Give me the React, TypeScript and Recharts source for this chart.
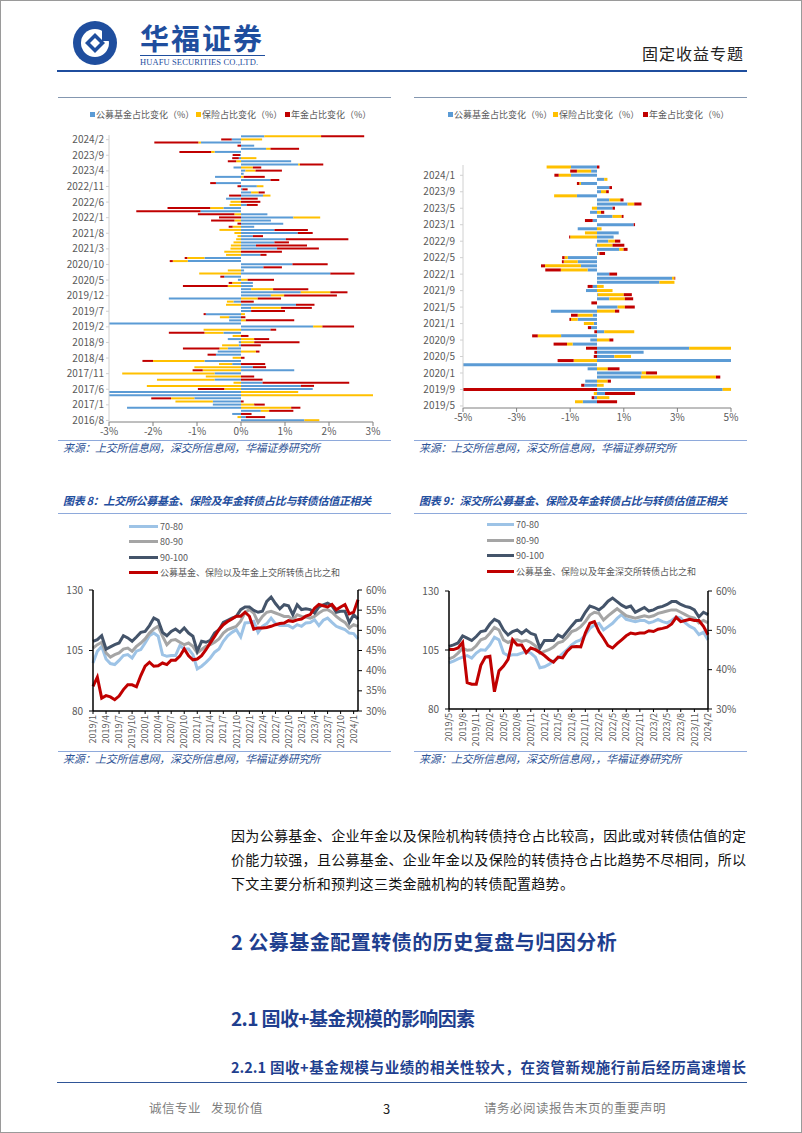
import React from 'react';
import { BarChart, Bar, XAxis, YAxis, LineChart, Line } from 'recharts';

const FONT = '"Noto Sans CJK SC","Noto Sans",sans-serif';
const TICK = '#595959';
const BLUE = '#5B9BD5';
const YELLOW = '#FFC000';
const RED = '#C00000';
const NAVY = '#44546A';
const GRAY = '#A5A5A5';
const LIGHT = '#9DC3E6';
const DARKBLUE = '#1F4E9E';

function monthRange(startY: number, startM: number, n: number): string[] {
  const out: string[] = [];
  let y = startY;
  let m = startM;
  for (let i = 0; i < n; i++) {
    out.push(`${y}/${m}`);
    m++;
    if (m > 12) { m = 1; y++; }
  }
  return out;
}

// ---- Chart 1: SSE share changes, 2016/8 .. 2024/3 ----
const sseBarMonths = monthRange(2016, 8, 92);
const sseFund = [1.44, 0.11, -0.2, 0.45, -2.59, -0.64, -0.64, -1.06, -3.0, -3.0, 1.63, 1.36, 0.49, -0.6, 0, -0.6, 1.21, 0.27, -0.2, -0.83, 0, -0.57, -0.53, -0.3, -0.05, -0.05, -0.3, 0, -0.4, 0.67, 1.64, -3.0, -0.27, -0.27, -0.8, 0.23, 0.23, 1.25, -0.17, -1.64, 0.68, 1.36, 0.23, 0.27, 0.27, -0.07, -0.38, 2.03, 0.07, 0.51, 1.17, -1.21, -0.83, 0.44, 0, 0.82, 0.34, 0.76, 1.02, 0.27, 1.29, 0.76, 0.3, 0.96, 0.68, 1.19, 0.6, -0.92, -0.4, 0.13, 0, -0.34, 0.5, 0.23, 0.03, 0.36, -0.57, 0.67, -0.59, 0.06, 0.1, -0.17, 1.3, 1.14, -0.05, -0.02, -0.6, 0.57, 0.3, -0.91, -0.21, 0.53];
const sseIns = [0.34, -0.08, 0, 0.19, 1.14, 0.3, -0.85, -0.53, 3.0, 1.3, -0.38, -2.14, -0.17, -1.31, -0.8, -2.1, -0.87, -1.06, -0.3, -1.17, -0.19, 0, 0.34, -0.19, -0.38, 0.3, 0.3, -0.19, -0.43, -0.85, 0.21, 0, 0.11, -0.21, 0.09, 0, 0.68, -0.34, -0.15, 0.38, 0.3, 0.67, 0.5, -0.3, -0.2, 0.15, 0, -0.95, -0.3, 0, 0, -0.34, -0.39, -0.34, -0.38, -0.24, -0.23, -0.17, -0.11, -0.08, -0.15, -0.49, -0.19, 0, -0.15, 0.61, -0.15, 0, -0.3, -0.26, -0.24, 0, 0.17, 0.17, 0, 0.15, 0, 0, 0.06, 0, 0.23, 0.27, 0.04, -0.11, 0.35, 0, -0.08, 0.1, 0, -0.06, 0.48, 1.29];
const ssePen = [0, 0.44, 0.24, 0.55, 0.21, 0.24, 0.06, -0.45, 0, 0, -0.6, 0.3, 1.97, 0.49, 0.3, 0, -0.23, 0.3, 0.55, -0.24, 0.08, -0.19, 0.08, -0.83, 0.45, 1.03, 0.34, 0.17, -0.81, 0.13, 0.72, 0, 1.1, 0.1, -0.05, 0.77, 0.7, 0.42, 0.29, 0.53, 1.2, 0.39, 0.8, -1.02, -0.08, 0.6, -0.09, 0.55, 0, 0.42, 0.8, -0.07, -0.06, 0.14, 0.93, 0.95, 1.16, 0.33, 1.42, 0.23, 0.34, 0.76, -0.09, -0.08, -0.53, -0.5, -0.83, -1.46, -0.97, 0.25, 0.44, 0.38, -0.27, 0.14, 0.12, -0.08, -0.13, 0.2, 0.48, 0, 0.6, 0.19, 0.53, -0.19, -0.15, -0.17, -0.72, 0.65, -0.08, -1.0, -0.24, 0.98];
const sseBarTicks = [-3, -2, -1, 0, 1, 2, 3];

// ---- Chart 2: SZSE share changes, 2019/5 .. 2024/3 ----
const szseBarMonths = monthRange(2019, 5, 59);
const szseFund = [0, -0.53, -0.1, 0.3, 4.69, -0.47, -0.44, 1.64, 1.67, -0.35, -5.0, 5.0, 0.65, 1.74, 3.44, -0.91, -0.25, -1.34, 0.27, -0.22, -0.12, -0.72, -0.16, -1.72, 0.77, 0, 0.46, 0.03, -0.41, -0.16, 2.33, 2.8, 0.46, -0.35, -0.6, -0.72, -1.09, 0.05, 0.83, -0.05, 0.42, 0.62, 0.81, -0.72, 1.37, -0.16, 0.58, -0.26, 0.58, 1.14, 0.46, -0.75, 0.15, 0.46, -0.6, 0.27, -0.97, -0.22, -0.97];
const szseIns = [0, -0.29, 0.46, -0.12, 0.31, 0.25, 0.4, 2.8, 0.16, 0.4, 0, -0.87, 0.62, 0, 1.56, -0.21, 0.46, -0.87, 1.12, 0, -0.37, -0.25, -0.56, 0.67, 0.27, 0, 0.58, 0.97, 0.58, 0.25, 0.56, 0.09, 0, -1.0, -1.34, -0.52, -0.12, 0.04, 0.16, 0.58, 0.25, -1.0, -0.45, 0.17, 0, 0, 0.34, 0.15, -0.19, 0.25, 0.41, -0.85, 0.19, 0, -0.06, 0.12, -0.46, -0.53, -0.91];
const szsePen = [0, 0.75, -0.1, 1.12, -5.0, -0.12, 0.12, 0.16, 0.41, 0.44, 0, -0.6, -0.12, -0.1, -0.41, -0.5, 0.15, -0.21, -0.1, -0.12, 0, -0.06, -0.25, 0.16, 0.37, -0.21, 0.31, 0.3, 0, -0.19, 0, 0.03, 0.29, -0.58, -0.15, -0.07, -0.09, 0.21, 0.15, 0.44, 0.2, -0.04, 0, 0, 0.05, -0.29, 0.07, 0.12, 0.09, 0.27, 0.12, 0, 0.1, 0.1, -0.09, 0, -0.16, -0.25, 0.09];
const szseBarTicks = [-5, -3, -1, 1, 3, 5];

// ---- Chart 3: SSE valuation vs share, 2019/1 .. 2024/2 ----
const sseLineMonths = monthRange(2019, 1, 62);
const sse7080 = [99.8, 104.7, 106.7, 101.5, 99.6, 99.2, 100.9, 102.9, 103.3, 101.9, 104.7, 105.4, 108.1, 111.1, 112.2, 110.9, 103.3, 102.6, 102.9, 102.9, 107, 105.6, 105.6, 103.3, 97.4, 98.5, 100.1, 101.9, 104.3, 105.6, 108.8, 111.1, 112.5, 113.6, 110.6, 116.4, 116.6, 117.1, 112.5, 115, 116.1, 118.4, 116.1, 115.3, 115.3, 115.3, 114.3, 115.7, 115, 116.4, 116.6, 117.7, 115.3, 117.5, 118.4, 116.6, 115, 114.3, 113.6, 112.2, 112, 109.8];
const sse8090 = [106, 107.4, 108.4, 104, 102.3, 103.3, 104, 105.6, 106, 104.7, 106.7, 108.1, 109.8, 112.2, 113.9, 115, 110.9, 107.4, 109.2, 109.5, 108.4, 107.4, 108.1, 106.7, 104, 105.4, 106.7, 107.4, 108.4, 109.8, 112.2, 113.6, 114.3, 115, 117.1, 120.8, 121.9, 120.5, 116.6, 119.1, 120.8, 121.2, 120.5, 119.8, 119.1, 119.1, 117.7, 119.8, 119.1, 118.8, 118.4, 119.1, 120.5, 121.6, 121.9, 120.8, 119.1, 117.7, 116.6, 114.3, 115.7, 115];
const sse90100 = [108.8, 109.5, 111.1, 105.6, 106.5, 107.4, 108.1, 111.1, 110.2, 108.8, 110.6, 112.5, 112.9, 115.3, 118.4, 117.5, 112.5, 111.1, 112.9, 113.9, 112.5, 114.3, 112.2, 110.9, 104.7, 108.8, 108.4, 109.2, 112.2, 113.6, 116.6, 117.5, 118.4, 119.1, 121.9, 123, 123, 121.6, 120.8, 121.2, 125.3, 127.1, 124.4, 122.2, 123.9, 123.5, 119.8, 123.9, 121.9, 122.2, 121.9, 120.5, 123, 123.9, 124.6, 123.5, 120.8, 121.2, 121.2, 116.6, 119.8, 118];
const sseShare = [36.1, 38.4, 33.2, 33.8, 33.5, 32.8, 33.7, 35.3, 36.5, 36.5, 36, 38.8, 41.1, 42.1, 41.1, 41.2, 41.9, 41.5, 42.6, 42.6, 43.6, 45.4, 43.7, 42.7, 42.9, 43.7, 45.2, 46.9, 48.5, 50.2, 51.4, 52.2, 52.8, 53.5, 53.5, 54.5, 53.5, 50.3, 50.6, 50.6, 50.7, 51, 51.4, 51.7, 51.8, 52.4, 52.2, 52.6, 52.8, 53.5, 53.9, 55.5, 56.4, 56.1, 55.8, 56.4, 55.1, 55.8, 56.4, 54.1, 54.5, 57.6];
const sseLeftTicks = [80, 105, 130];
const sseRightTicks = [30, 35, 40, 45, 50, 55, 60];

// ---- Chart 4: SZSE valuation vs share, 2019/5 .. 2024/2 ----
const szseLineMonths = monthRange(2019, 5, 58);
const szse7080 = [99.6, 100.3, 101.2, 102, 102.6, 101.6, 103.7, 105.1, 104.9, 107.2, 110.4, 109.3, 103.7, 102.6, 103, 103, 103.7, 104.4, 103.7, 102, 97.5, 97.9, 98.9, 100.3, 101.6, 103.5, 105.1, 107.2, 108.6, 109.3, 111.4, 114.2, 115.6, 116.3, 113.5, 114.9, 116.3, 118.4, 120, 118, 117.5, 117, 117.5, 117.5, 116.5, 117, 118, 117, 116.5, 117.5, 119, 118.5, 116.5, 115, 114, 111.5, 112.5, 109.3];
const szse8090 = [101.2, 102, 103.7, 105.8, 104.9, 105.1, 106.8, 109.3, 110, 112.1, 114.6, 113.5, 109.3, 108.2, 109.1, 109.3, 108.6, 109.1, 108.2, 106.8, 103.7, 104.4, 105.1, 106.3, 108, 108.6, 110.4, 112.8, 113.5, 114.9, 117, 119.8, 121, 120.5, 117.7, 119.5, 121, 122.5, 121, 119.5, 119, 118.5, 119, 119.5, 119, 119.5, 120.5, 121, 121.5, 122, 122, 121, 120, 119, 118.5, 116.5, 117.5, 116.5];
const szse90100 = [106.5, 107.2, 108, 111, 110, 109, 110.7, 112.8, 113.2, 116, 118, 117, 113.5, 111.4, 112.8, 113.5, 112, 113.5, 112, 111.4, 105.8, 109, 109, 109, 111.4, 110.4, 112.8, 115.2, 117.4, 117.7, 121, 123.6, 123, 122, 123.5, 125.7, 127, 125.5, 124, 123, 123.6, 121, 122, 123, 121.5, 122, 123, 123.5, 124.3, 125.5, 125.5, 124.3, 123.5, 123, 122, 119, 121, 120];
const szseShare = [45.1, 45.1, 45.5, 46.9, 36.7, 36.3, 36.3, 41.1, 43.2, 43.4, 34.4, 39.7, 40.9, 42.6, 47.6, 46.3, 46.3, 44.3, 45.5, 45.1, 44.4, 43.6, 42.6, 41.9, 43.2, 43, 44.7, 45.8, 45.9, 45.8, 49.3, 51.8, 52.2, 49.7, 48, 46.1, 45.5, 46.6, 47.6, 48.6, 49.3, 49.1, 49.3, 49.3, 49.9, 49.7, 50.3, 50.5, 50.8, 51.6, 53.3, 52.2, 52.5, 52.8, 52.5, 52.5, 51, 48.9];
const szseLeftTicks = [80, 105, 130];
const szseRightTicks = [30, 40, 50, 60];

const barLegend = ['公募基金占比变化（%）', '保险占比变化（%）', '年金占比变化（%）'];
const sseLineLegend = ['70-80', '80-90', '90-100', '公募基金、保险以及年金上交所转债占比之和'];
const szseLineLegend = ['70-80', '80-90', '90-100', '公募基金、保险以及年金深交所转债占比之和'];

const sseBarData = sseBarMonths.map((m, i) => ({ m, fund: sseFund[i], ins: sseIns[i], pen: ssePen[i] }));
const szseBarData = szseBarMonths.map((m, i) => ({ m, fund: szseFund[i], ins: szseIns[i], pen: szsePen[i] }));
const sseLineData = sseLineMonths.map((m, i) => ({ m, a: sse7080[i], b: sse8090[i], c: sse90100[i], s: sseShare[i] }));
const szseLineData = szseLineMonths.map((m, i) => ({ m, a: szse7080[i], b: szse8090[i], c: szse90100[i], s: szseShare[i] }));

const pct = (v: number) => `${v}%`;

const RotTick = (props: any) => {
  const { x, y, payload } = props;
  return (
    <text x={x} y={y} transform={`rotate(-90 ${x} ${y})`} textAnchor="end" dy="0.35em" fontSize={9} fill={TICK} fontFamily={FONT}>
      {payload.value}
    </text>
  );
};

const abs = (left: number, top: number, extra: React.CSSProperties = {}): React.CSSProperties => ({
  position: 'absolute', left, top, whiteSpace: 'nowrap', lineHeight: 1, fontFamily: FONT, ...extra,
});

const HLine = ({ x1, x2, y, color, w = 1 }: { x1: number; x2: number; y: number; color: string; w?: number }) => (
  <div style={{ position: 'absolute', left: x1, top: y, width: x2 - x1, height: w, background: color }} />
);

const BarLegend = ({ xs, y }: { xs: number[]; y: number }) => (
  <>
    {barLegend.map((t, i) => (
      <div key={t} style={abs(xs[i], y - 5, { fontSize: 9, color: TICK, display: 'flex', alignItems: 'center' })}>
        <span style={{ display: 'inline-block', width: 5, height: 5, background: [BLUE, YELLOW, RED][i], marginRight: 1 }} />
        {t}
      </div>
    ))}
  </>
);

const LineLegend = ({ x, ys, len, labels }: { x: number; ys: number[]; len: number; labels: string[] }) => (
  <>
    {labels.map((t, i) => (
      <div key={t} style={abs(x, ys[i] - 5, { fontSize: 9, color: TICK, display: 'flex', alignItems: 'center', height: 10 })}>
        <span style={{ display: 'inline-block', width: len, height: 3, background: [LIGHT, GRAY, NAVY, RED][i], marginRight: 2 }} />
        {t}
      </div>
    ))}
  </>
);

const Logo = () => (
  <svg width={46} height={46} viewBox="0 0 46 46" style={{ position: 'absolute', left: 71, top: 19 }}>
    <circle cx={23} cy={23} r={22} fill={DARKBLUE} />
    <circle cx={23} cy={23} r={14} fill="#fff" />
    <path d="M23 13 L33 23 L23 33 L13 23 Z" fill={DARKBLUE} />
    <path d="M23 18 L28 23 L23 28 L18 23 Z" fill="#fff" />
    <rect x={30} y={8} width={9} height={13} fill={DARKBLUE} />
  </svg>
);

const srcStyle: React.CSSProperties = { fontSize: 11, fontStyle: 'italic', color: '#2F5597', letterSpacing: -0.3 };
const capStyle: React.CSSProperties = { fontSize: 11, fontStyle: 'italic', fontWeight: 700, color: DARKBLUE, letterSpacing: -0.3 };

export default function App() {
  return (
    <div style={{ position: 'absolute', left: 0, top: 0, width: 802, height: 1133, background: '#fff', boxSizing: 'border-box', border: '1px solid #9a9a9a', overflow: 'hidden', fontFamily: FONT }}>
      {/* Header */}
      <Logo />
      <div style={abs(139, 22, { fontSize: 29, fontWeight: 700, color: DARKBLUE, letterSpacing: 2 })}>华福证券</div>
      <HLine x1={139} x2={264} y={54} color={DARKBLUE} />
      <div style={abs(139, 57, { fontSize: 8.5, color: DARKBLUE, fontFamily: '"Liberation Serif",serif', letterSpacing: 0.1 })}>HUAFU SECURITIES CO.,LTD.</div>
      <div style={abs(641, 44, { fontSize: 16, color: '#222', letterSpacing: 1 })}>固定收益专题</div>
      <HLine x1={56} x2={746} y={69} color={DARKBLUE} w={2} />

      {/* Top chart frames */}
      <HLine x1={57} x2={390} y={96} color="#8497B0" />
      <HLine x1={413} x2={746} y={96} color="#8497B0" />

      {/* Chart 1 */}
      <BarLegend xs={[89, 195, 284]} y={114} />
      <div style={{ position: 'absolute', left: 60, top: 97 }}>
        <BarChart width={330} height={345} data={sseBarData} layout="vertical" stackOffset="sign" margin={{ top: 37, right: 18, bottom: 0, left: 0 }} barCategoryGap="10%">
          <XAxis type="number" domain={[-3, 3]} ticks={sseBarTicks} tickFormatter={pct} allowDataOverflow height={21} tickSize={4} tick={{ fontSize: 10, fill: TICK, fontFamily: FONT }} axisLine={{ stroke: '#7f7f7f' }} tickLine={{ stroke: '#7f7f7f' }} />
          <YAxis type="category" dataKey="m" reversed interval={4} width={48} tickSize={3} tickMargin={2} tick={{ fontSize: 10, fill: TICK, fontFamily: FONT }} axisLine={{ stroke: '#d0d0d0' }} tickLine={{ stroke: '#d0d0d0' }} />
          <Bar dataKey="fund" stackId="s" fill={BLUE} isAnimationActive={false} />
          <Bar dataKey="ins" stackId="s" fill={YELLOW} isAnimationActive={false} />
          <Bar dataKey="pen" stackId="s" fill={RED} isAnimationActive={false} />
        </BarChart>
      </div>

      {/* Chart 2 */}
      <BarLegend xs={[447, 552, 642]} y={114} />
      <div style={{ position: 'absolute', left: 413, top: 97 }}>
        <BarChart width={332} height={332} data={szseBarData} layout="vertical" stackOffset="sign" margin={{ top: 67, right: 15, bottom: 0, left: 0 }} barCategoryGap="12%">
          <XAxis type="number" domain={[-5, 5]} ticks={szseBarTicks} tickFormatter={pct} allowDataOverflow height={22} tickSize={4} tick={{ fontSize: 10, fill: TICK, fontFamily: FONT }} axisLine={{ stroke: '#7f7f7f' }} tickLine={{ stroke: '#7f7f7f' }} />
          <YAxis type="category" dataKey="m" reversed interval={3} width={49} tickSize={3} tickMargin={5} tick={{ fontSize: 10, fill: TICK, fontFamily: FONT }} axisLine={{ stroke: '#d0d0d0' }} tickLine={{ stroke: '#d0d0d0' }} />
          <Bar dataKey="fund" stackId="s" fill={BLUE} isAnimationActive={false} />
          <Bar dataKey="ins" stackId="s" fill={YELLOW} isAnimationActive={false} />
          <Bar dataKey="pen" stackId="s" fill={RED} isAnimationActive={false} />
        </BarChart>
      </div>

      {/* Sources top */}
      <HLine x1={57} x2={390} y={439} color="#8EA9DB" />
      <HLine x1={413} x2={746} y={439} color="#8EA9DB" />
      <div style={abs(62, 441, srcStyle)}>来源：上交所信息网，深交所信息网，华福证券研究所</div>
      <div style={abs(418, 441, srcStyle)}>来源：上交所信息网，深交所信息网，华福证券研究所</div>

      {/* Captions */}
      <div style={abs(62, 494, capStyle)}>图表 8：上交所公募基金、保险及年金转债占比与转债估值正相关</div>
      <div style={abs(418, 494, capStyle)}>图表 9：深交所公募基金、保险及年金转债占比与转债估值正相关</div>
      <HLine x1={57} x2={390} y={512} color="#8EA9DB" />
      <HLine x1={413} x2={746} y={512} color="#8EA9DB" />

      {/* Chart 3 */}
      <LineLegend x={128} ys={[525, 540.5, 556, 571]} len={29} labels={sseLineLegend} />
      <div style={{ position: 'absolute', left: 60, top: 580 }}>
        <LineChart width={330} height={170} data={sseLineData} margin={{ top: 9, right: 0, bottom: 0, left: 0 }}>
          <XAxis dataKey="m" scale="point" interval={2} height={40} tickSize={3} tickMargin={1} tick={<RotTick />} axisLine={{ stroke: '#000', strokeWidth: 1.5 }} tickLine={{ stroke: '#000' }} />
          <YAxis yAxisId="l" domain={[80, 130]} ticks={sseLeftTicks} width={32} tickSize={4} tickMargin={6} tick={{ fontSize: 10, fill: TICK, fontFamily: FONT }} axisLine={{ stroke: '#000', strokeWidth: 1.5 }} tickLine={{ stroke: '#000' }} />
          <YAxis yAxisId="r" orientation="right" domain={[30, 60]} ticks={sseRightTicks} tickFormatter={pct} width={33} tickSize={4} tickMargin={4} tick={{ fontSize: 10, fill: TICK, fontFamily: FONT }} axisLine={{ stroke: '#000', strokeWidth: 1.5 }} tickLine={{ stroke: '#000' }} />
          <Line yAxisId="l" dataKey="a" stroke={LIGHT} strokeWidth={3} dot={false} isAnimationActive={false} />
          <Line yAxisId="l" dataKey="b" stroke={GRAY} strokeWidth={3} dot={false} isAnimationActive={false} />
          <Line yAxisId="l" dataKey="c" stroke={NAVY} strokeWidth={3} dot={false} isAnimationActive={false} />
          <Line yAxisId="r" dataKey="s" stroke={RED} strokeWidth={3} dot={false} isAnimationActive={false} />
        </LineChart>
      </div>

      {/* Chart 4 */}
      <LineLegend x={486} ys={[523, 539, 554, 570]} len={27} labels={szseLineLegend} />
      <div style={{ position: 'absolute', left: 413, top: 580 }}>
        <LineChart width={332} height={170} data={szseLineData} margin={{ top: 10, right: 0, bottom: 0, left: 0 }}>
          <XAxis dataKey="m" scale="point" interval={2} height={42} tickSize={3} tickMargin={1} tick={<RotTick />} axisLine={{ stroke: '#000', strokeWidth: 1.5 }} tickLine={{ stroke: '#000' }} />
          <YAxis yAxisId="l" domain={[80, 130]} ticks={szseLeftTicks} width={35} tickSize={4} tickMargin={6} tick={{ fontSize: 10, fill: TICK, fontFamily: FONT }} axisLine={{ stroke: '#000', strokeWidth: 1.5 }} tickLine={{ stroke: '#000' }} />
          <YAxis yAxisId="r" orientation="right" domain={[30, 60]} ticks={szseRightTicks} tickFormatter={pct} width={38} tickSize={4} tickMargin={4} tick={{ fontSize: 10, fill: TICK, fontFamily: FONT }} axisLine={{ stroke: '#000', strokeWidth: 1.5 }} tickLine={{ stroke: '#000' }} />
          <Line yAxisId="l" dataKey="a" stroke={LIGHT} strokeWidth={3} dot={false} isAnimationActive={false} />
          <Line yAxisId="l" dataKey="b" stroke={GRAY} strokeWidth={3} dot={false} isAnimationActive={false} />
          <Line yAxisId="l" dataKey="c" stroke={NAVY} strokeWidth={3} dot={false} isAnimationActive={false} />
          <Line yAxisId="r" dataKey="s" stroke={RED} strokeWidth={3} dot={false} isAnimationActive={false} />
        </LineChart>
      </div>

      {/* Sources bottom */}
      <HLine x1={57} x2={390} y={750} color="#8EA9DB" />
      <HLine x1={413} x2={746} y={750} color="#8EA9DB" />
      <div style={abs(62, 752, srcStyle)}>来源：上交所信息网，深交所信息网，华福证券研究所</div>
      <div style={abs(418, 752, srcStyle)}>来源：上交所信息网，深交所信息网，，华福证券研究所</div>

      {/* Body text */}
      <div style={abs(230, 827, { fontSize: 14, color: '#111', width: 515, textAlign: 'justify', textAlignLast: 'justify' })}>因为公募基金、企业年金以及保险机构转债持仓占比较高，因此或对转债估值的定</div>
      <div style={abs(230, 851, { fontSize: 14, color: '#111', width: 515, textAlign: 'justify', textAlignLast: 'justify' })}>价能力较强，且公募基金、企业年金以及保险的转债持仓占比趋势不尽相同，所以</div>
      <div style={abs(230, 875, { fontSize: 14, color: '#111', letterSpacing: 0.3 })}>下文主要分析和预判这三类金融机构的转债配置趋势。</div>

      {/* Headings */}
      <div style={abs(230, 931, { fontSize: 20, fontWeight: 700, color: '#1F3F8F', letterSpacing: 0.5 })}>2 公募基金配置转债的历史复盘与归因分析</div>
      <div style={abs(230, 1007, { fontSize: 19, fontWeight: 700, color: '#1F3F8F', letterSpacing: -0.6 })}>2.1 固收+基金规模的影响因素</div>
      <div style={abs(230, 1059, { fontSize: 14.5, fontWeight: 700, color: '#1F3F8F', width: 515, textAlign: 'justify', textAlignLast: 'justify' })}>2.2.1 固收+基金规模与业绩的相关性较大，在资管新规施行前后经历高速增长</div>
      <HLine x1={56} x2={746} y={1081} color="#2F5597" />

      {/* Footer */}
      <div style={abs(148, 1101, { fontSize: 12.5, color: '#7f7f7f', letterSpacing: 0.5 })}>诚信专业&nbsp;&nbsp;&nbsp;发现价值</div>
      <div style={abs(382, 1101, { fontSize: 13, color: '#222' })}>3</div>
      <div style={abs(483, 1101, { fontSize: 12.5, color: '#7f7f7f', letterSpacing: 0.5 })}>请务必阅读报告末页的重要声明</div>
    </div>
  );
}
